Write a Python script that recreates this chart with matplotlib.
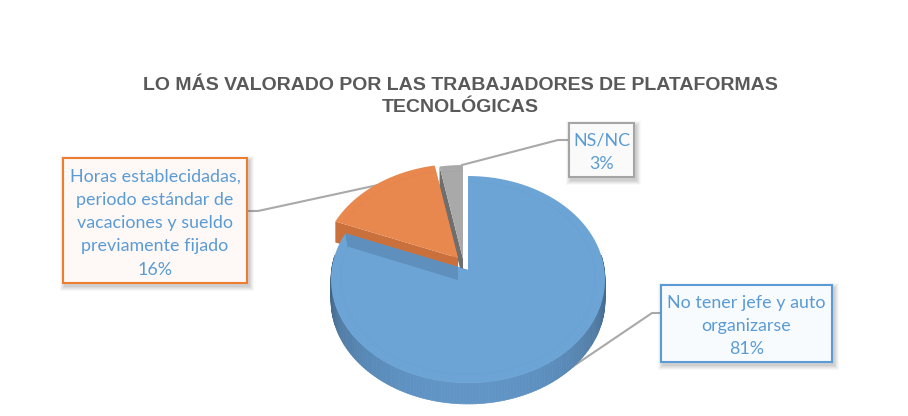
import numpy as np
import matplotlib
matplotlib.use("Agg")
import matplotlib.pyplot as plt
from matplotlib.patches import Polygon, Rectangle
from matplotlib.collections import PolyCollection

title_lines = ["LO MÁS VALORADO POR LAS TRABAJADORES DE PLATAFORMAS", "TECNOLÓGICAS"]
categories = ["No tener jefe y auto\norganizarse",
              "Horas establecidadas,\nperiodo estándar de\nvacaciones y sueldo\npreviamente fijado",
              "NS/NC"]
values = [81, 16, 3]
top_colors = ["#6CA4D6", "#E8874E", "#A9A9A9"]
side_colors = ["#5583AE", "#C9703C", "#6E6E6E"]
edge_colors = ["#5B9BD5", "#ED7D31", "#A5A5A5"]
fills = ["#F8FBFE", "#FEF9F6", "#FAFAFA"]
text_color = "#5B9BD5"

CX, CY, RX, S, P, DEPTH = 468.0, 270.0, 136.4, 102.6, 0.0918, 21.0
offsets = [(0, 0), (-10, -12), (-5, -11)]
boxes = [(661, 285, 171, 77), (63, 158, 184, 125), (569, 123, 65, 54)]
leaders = [[(661, 313), (652, 313), (550, 382)],
           [(247, 211), (258, 211), (378, 185)],
           [(569, 140), (558, 140), (462, 165)]]

fig = plt.figure(figsize=(9.08, 4.16), dpi=100)
ax = fig.add_axes([0, 0, 1, 1])
ax.set_xlim(0, 908)
ax.set_ylim(416, 0)
ax.axis("off")


def project(theta, r=1.0, off=(0, 0)):
    """theta is measured clockwise from the top of the pie."""
    u, v = r * np.sin(theta), r * np.cos(theta)
    w = 1 + P * v
    return CX + off[0] + RX * u / w, CY + off[1] - S * v / w


fractions = np.array(values, dtype=float) / sum(values)
ends = np.cumsum(fractions) * 2 * np.pi
starts = ends - fractions * 2 * np.pi

# leader lines sit behind the pie
for pts in leaders:
    xs, ys = zip(*pts)
    ax.plot(xs, ys, color="#A9A9A9", lw=1.5, zorder=1, solid_joinstyle="round")

for i in [2, 1, 0]:
    off = offsets[i]
    t = np.linspace(starts[i], ends[i], 240)
    x, y = project(t, off=off)
    ax_, ay_ = project(0.0, r=0.0, off=off)
    z = 3 + (2 - i)
    # cut faces
    for a in (starts[i], ends[i]):
        ex, ey = project(a, off=off)
        ax.add_patch(Polygon([(ax_, ay_), (ex, ey), (ex, ey + DEPTH), (ax_, ay_ + DEPTH)],
                             closed=True, fc=side_colors[i], ec="none", zorder=z))
    # rim, darkest at the sides and lightest towards the front
    strips, shades = [], []
    base = np.array(matplotlib.colors.to_rgb(side_colors[i]))
    for k in range(len(t) - 1):
        if np.cos((t[k] + t[k + 1]) / 2) > 0.15:
            continue
        strips.append([(x[k], y[k]), (x[k + 1], y[k + 1]),
                       (x[k + 1], y[k + 1] + DEPTH), (x[k], y[k] + DEPTH)])
        shade = 0.72 + 0.42 * max(-np.cos(t[k]), 0) ** 0.8
        shades.append(np.clip(base * shade, 0, 1))
    if strips:
        ax.add_collection(PolyCollection(strips, facecolors=shades, edgecolors=shades,
                                         linewidths=0.5, zorder=z))
    # top face
    ax.add_patch(Polygon(np.column_stack([np.r_[ax_, x], np.r_[ay_, y]]), closed=True,
                         fc=top_colors[i], ec="none", zorder=z + 0.2))
    # faint bevel
    bx, by = project(t, r=0.93, off=off)
    ax.plot(bx, by, color=side_colors[i], lw=0.6, alpha=0.08, zorder=z + 0.3)

# darker inner wall of the first slice, seen through the notch
ex, ey = project(ends[0])
ax.add_patch(Polygon([(ex, ey), (458, ey + (458 - ex) * (CY - ey) / (CX - ex)),
                      (458, ey + 13 + (458 - ex) * (CY - ey) / (CX - ex)), (ex + 2, ey + 13)],
                     closed=True, fc="#5F8FBC", ec="none", zorder=5.5))

# data-label boxes with soft shadow
for i, (bx, by, bw, bh) in enumerate(boxes):
    for g, alpha in zip((6, 5, 4, 3, 2), (0.04, 0.05, 0.06, 0.07, 0.08)):
        ax.add_patch(Rectangle((bx - g + 3, by - g + 4), bw + 2 * g - 2, bh + 2 * g - 2,
                               fc="#555555", ec="none", alpha=alpha, zorder=8))
    ax.add_patch(Rectangle((bx, by), bw, bh, fc=fills[i], ec=edge_colors[i], lw=1.5, zorder=9))
    ax.text(bx + bw / 2, by + bh / 2 + 2.5, f"{categories[i]}\n{values[i]}%", ha="center", va="center",
            color=text_color, fontsize=12.9, family="Lato", linespacing=1.56, zorder=10)

ax.text(460, 85, title_lines[0], ha="center", va="center", color="#595959",
        fontsize=14.0, fontweight="bold", family="Liberation Sans")
ax.text(460, 107, title_lines[1], ha="center", va="center", color="#595959",
        fontsize=14.0, fontweight="bold", family="Liberation Sans")

fig.savefig("out.png", dpi=100, facecolor="white")
